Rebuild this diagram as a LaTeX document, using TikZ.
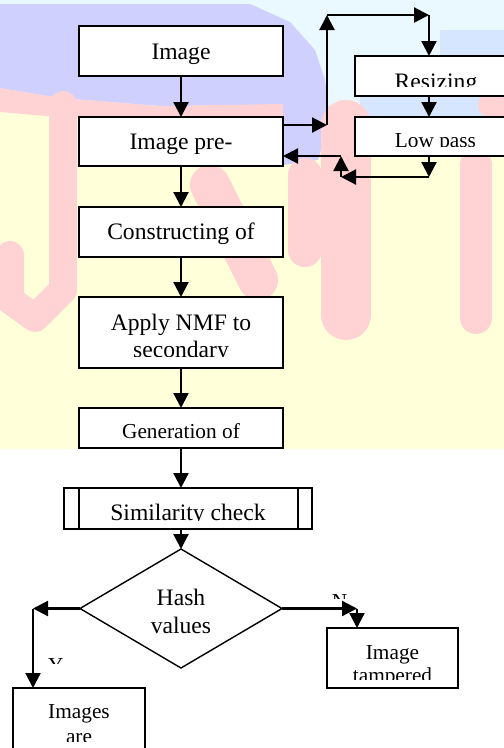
\documentclass[tikz,border=0pt]{standalone}
\usepackage{fontspec}
\setmainfont{Liberation Serif}
\usetikzlibrary{arrows.meta,shapes.geometric,calc}
\definecolor{bgyel}{RGB}{255,255,218}
\definecolor{bgcyan}{RGB}{234,249,255}
\definecolor{bglav}{RGB}{208,208,255}
\definecolor{bgblue}{RGB}{214,230,255}
\definecolor{bgpink}{RGB}{255,210,212}
\begin{document}
\begin{tikzpicture}[x=1pt,y=-1pt,
  box/.style={draw,line width=1.8pt,fill=white,inner sep=0pt,outer sep=0pt},
  conn/.style={line width=2.2pt,-{Triangle[length=15pt,width=15pt]}},
  big/.style={font=\fontsize{23.6}{27}\selectfont},
  small/.style={font=\fontsize{21.3}{24}\selectfont},
  lbl/.style={anchor=base,inner sep=0pt,outer sep=0pt},
  wm/.style={draw=bgpink,line cap=round,line join=round}]
\useasboundingbox (0,0) rectangle (504,748);
\clip (0,0) rectangle (504,748);
% ---------- watermark background ----------
\fill[white] (0,0) rectangle (504,748);
\fill[bgyel] (0,0) rectangle (504,449);
\fill[bgcyan] (0,0) rectangle (504,112);
\fill[bgblue] (440,30) rectangle (504,60);
\fill[bgblue] (360,95) rectangle (504,118);
\fill[bglav] (0,4) -- (250,4) -- (290,22) -- (315,50) -- (325,80) -- (330,120)
  -- (318,160) -- (283,165) -- (283,105) -- (160,106) -- (60,98) -- (0,88) -- cycle;
\fill[bgpink] (0,88) -- (60,98) -- (160,106) -- (283,104) -- (283,118) -- (70,118) -- (0,112) -- cycle;
% J
\draw[wm,line width=28pt] (63,105) -- (63,290) -- (35,318) -- (10,300) -- (10,255);
% N-like letter
\draw[wm,line width=40pt] (210,185) -- (258,280);
\draw[wm,line width=34pt] (305,175) -- (305,250);
\draw[wm,line width=50pt] (346,125) -- (346,315);
% right letter
\draw[wm,line width=32pt] (476,165) -- (476,318);
\draw[wm,line width=26pt] (491,105) -- (504,105);
% ---------- boxes ----------
\node[box,minimum width=204pt,minimum height=50pt] (b1) at (181,51) {};
\node[box,minimum width=204pt,minimum height=49pt] (b2) at (181,141.5) {};
\node[box,minimum width=204pt,minimum height=50pt] (b3) at (181,232) {};
\node[box,minimum width=204pt,minimum height=71pt] (b4) at (181,332.5) {};
\node[box,minimum width=204pt,minimum height=40pt] (b5) at (181,428) {};
\node[box,minimum width=248pt,minimum height=41pt] (b6) at (188,508.5) {};
\draw[line width=1.8pt] ([xshift=15pt]b6.north west) -- ([xshift=15pt]b6.south west);
\draw[line width=1.8pt] ([xshift=-14pt]b6.north east) -- ([xshift=-14pt]b6.south east);
\node[box,minimum width=170pt,minimum height=40pt] (r1) at (440,76) {};
\node[box,minimum width=170pt,minimum height=39pt] (r2) at (440,136.5) {};
\node[diamond,draw,line width=1.4pt,fill=white,inner sep=0pt,outer sep=0pt,
  minimum width=202pt,minimum height=119pt] (d) at (181,608.5) {};
\node[box,minimum width=132pt,minimum height=82pt] (b8) at (79,729) {};
\node[box,minimum width=131pt,minimum height=60pt] (b9) at (392.5,658) {};
% ---------- texts ----------
\node[lbl,big] (t1) at (181,59) {Image};
\node[lbl,big] (t2) at (181,149) {Image pre-};
\node[lbl,big] (t3) at (181,239.6) {Constructing of};
\node[lbl,big] (t4) at (181,330.6) {Apply NMF to};
\begin{scope}\clip (80,340) rectangle (282,356.7);
\node[lbl,big] (t4b) at (181,357.6) {secondary};
\end{scope}
\node[lbl,small] (t5) at (181,438) {Generation of};
\begin{scope}\clip (80,490) rectangle (296,520);
\node[lbl,big] (t6) at (188,520.6) {Similarity check};
\end{scope}
\begin{scope}\clip (356,58) rectangle (504,86);
\node[lbl,big] (tr1) at (436,89) {Resizing};
\end{scope}
\begin{scope}\clip (356,119) rectangle (504,146.7);
\node[lbl,small] (tr2) at (435.5,147.4) {Low pass};
\end{scope}
\node[lbl,big] (td1) at (181,605.6) {Hash};
\node[lbl,big] (td2) at (181,633) {values};
\node[lbl,small] (t9a) at (392.5,659.6) {Image};
\begin{scope}\clip (328,665) rectangle (457,679);
\node[lbl,small] (t9b) at (392.5,682.7) {tampered};
\end{scope}
\node[lbl,small] (t8a) at (79,718.8) {Images};
\begin{scope}\clip (14,725) rectangle (144,741);
\node[lbl,small] (t8b) at (79,743) {are};
\end{scope}
\begin{scope}\clip (40,650) rectangle (75,663.3);
\node[lbl,small] (ly) at (55.8,672.2) {Y};
\end{scope}
\begin{scope}\clip (325,585) rectangle (355,598.3);
\node[lbl,small] (ln) at (339.5,608) {N};
\end{scope}
% ---------- connectors ----------
\draw[conn] (b1) -- (b2);
\draw[conn] (b2) -- (b3);
\draw[conn] (b3) -- (b4);
\draw[conn] (b4) -- (b5);
\draw[conn] (b5.south) -- (b5.south |- b6.north);
\draw[conn] (d.north |- b6.south) -- (d.north);
\coordinate (c1) at (327,125);
\coordinate (c2) at (327,15);
\coordinate (c3) at (429,15);
\coordinate (c4) at (429,177);
\coordinate (c5) at (341,177);
\coordinate (c6) at (341,156);
\draw[conn] (b2.east |- c1) -- (c1);
\draw[conn] (c1) -- (c2);
\draw[conn] (c2) -- (c3);
\draw[conn] (c3) -- (c3 |- r1.north);
\draw[conn] (c3 |- r1.south) -- (c3 |- r2.north);
\draw[conn] (c3 |- r2.south) -- (c4);
\draw[conn] (c4) -- (c5);
\draw[conn] (c5) -- (c6);
\draw[conn] (c6) -- (b2.east |- c6);
\coordinate (yl) at (33,608.5);
\coordinate (nr) at (357,608.5);
\draw[conn] (d.west) -- (yl);
\draw[conn] (yl) -- (yl |- b8.north);
\draw[conn] (d.east) -- (nr);
\draw[conn] (nr) -- (nr |- b9.north);
\end{tikzpicture}
\end{document}
